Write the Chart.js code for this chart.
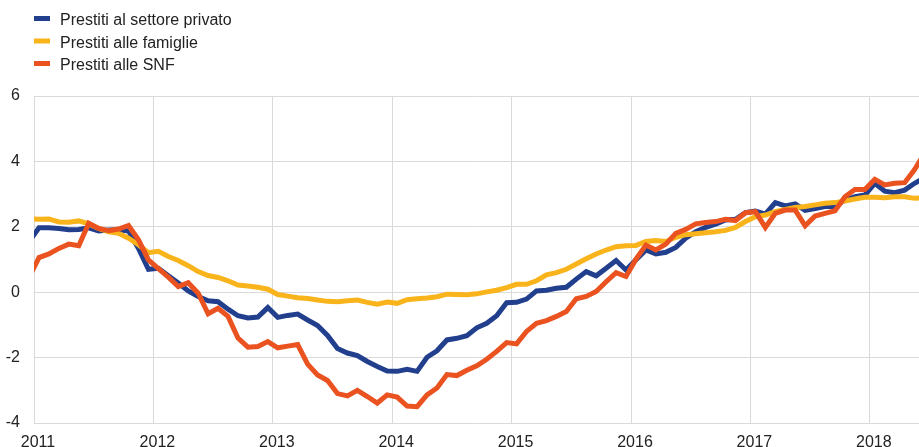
<!DOCTYPE html>
<html>
<head>
<meta charset="utf-8">
<script src="https://cdn.jsdelivr.net/npm/chart.js@4"></script>
<style>
  html, body { margin: 0; padding: 0; background: #ffffff; }
  #wrap { position: relative; width: 919px; height: 447px; }
</style>
</head>
<body>
<div id="wrap"><canvas id="c"></canvas></div>
<script>
// ---- categories (monthly observations) ----
const months = [
  "2010-12",
  "2011-01","2011-02","2011-03","2011-04","2011-05","2011-06","2011-07","2011-08","2011-09","2011-10","2011-11","2011-12",
  "2012-01","2012-02","2012-03","2012-04","2012-05","2012-06","2012-07","2012-08","2012-09","2012-10","2012-11","2012-12",
  "2013-01","2013-02","2013-03","2013-04","2013-05","2013-06","2013-07","2013-08","2013-09","2013-10","2013-11","2013-12",
  "2014-01","2014-02","2014-03","2014-04","2014-05","2014-06","2014-07","2014-08","2014-09","2014-10","2014-11","2014-12",
  "2015-01","2015-02","2015-03","2015-04","2015-05","2015-06","2015-07","2015-08","2015-09","2015-10","2015-11","2015-12",
  "2016-01","2016-02","2016-03","2016-04","2016-05","2016-06","2016-07","2016-08","2016-09","2016-10","2016-11","2016-12",
  "2017-01","2017-02","2017-03","2017-04","2017-05","2017-06","2017-07","2017-08","2017-09","2017-10","2017-11","2017-12",
  "2018-01","2018-02","2018-03","2018-04","2018-05","2018-06"
];

// ---- series values ----
const prestitiSettorePrivato = [
  1.55,
  1.97, 1.97, 1.95, 1.91, 1.92, 1.97, 1.87, 1.90, 1.91, 1.87, 1.34, 0.70,
  0.73, 0.50, 0.28, 0.04, -0.13, -0.26, -0.29, -0.52, -0.72, -0.79, -0.76, -0.47,
  -0.77, -0.71, -0.67, -0.85, -1.02, -1.32, -1.72, -1.86, -1.94, -2.12, -2.27, -2.41,
  -2.42, -2.36, -2.42, -1.99, -1.79, -1.46, -1.41, -1.33, -1.09, -0.95, -0.72, -0.32,
  -0.31, -0.21, 0.04, 0.06, 0.12, 0.15, 0.40, 0.63, 0.50, 0.73, 0.97, 0.68,
  0.99, 1.29, 1.17, 1.22, 1.37, 1.65, 1.85, 1.98, 2.08, 2.21, 2.23, 2.43,
  2.48, 2.39, 2.74, 2.64, 2.70, 2.50, 2.56, 2.62, 2.62, 2.82, 2.92, 2.97,
  3.33, 3.09, 3.04, 3.12, 3.33, 3.50
];
const prestitiFamiglie = [
  2.25,
  2.23, 2.24, 2.15, 2.14, 2.18, 2.09, 1.95, 1.85, 1.80, 1.65, 1.45, 1.21,
  1.25, 1.09, 0.97, 0.81, 0.63, 0.51, 0.45, 0.35, 0.22, 0.19, 0.15, 0.09,
  -0.07, -0.12, -0.17, -0.19, -0.24, -0.28, -0.29, -0.26, -0.24, -0.31, -0.37, -0.30,
  -0.34, -0.23, -0.20, -0.18, -0.14, -0.06, -0.07, -0.08, -0.05, 0.01, 0.06, 0.14,
  0.24, 0.24, 0.35, 0.53, 0.60, 0.70, 0.86, 1.02, 1.17, 1.29, 1.39, 1.42,
  1.43, 1.55, 1.58, 1.55, 1.68, 1.76, 1.79, 1.82, 1.85, 1.89, 1.98, 2.16,
  2.31, 2.36, 2.46, 2.53, 2.59, 2.62, 2.67, 2.72, 2.74, 2.79, 2.85, 2.90,
  2.90, 2.89, 2.92, 2.92, 2.87, 2.90
];
const prestitiSNF = [
  0.45,
  1.06, 1.17, 1.34, 1.47, 1.42, 2.11, 1.95, 1.88, 1.93, 2.04, 1.60, 0.99,
  0.72, 0.46, 0.17, 0.29, -0.03, -0.66, -0.49, -0.74, -1.40, -1.68, -1.66, -1.51,
  -1.70, -1.65, -1.60, -2.20, -2.53, -2.70, -3.10, -3.17, -3.00, -3.19, -3.39, -3.14,
  -3.21, -3.48, -3.50, -3.14, -2.93, -2.52, -2.55, -2.39, -2.25, -2.05, -1.81, -1.54,
  -1.58, -1.20, -0.95, -0.87, -0.74, -0.59, -0.20, -0.13, 0.02, 0.32, 0.60, 0.48,
  1.01, 1.44, 1.29, 1.47, 1.80, 1.92, 2.09, 2.13, 2.16, 2.23, 2.19, 2.43,
  2.46, 1.98, 2.41, 2.51, 2.51, 2.03, 2.33, 2.41, 2.49, 2.92, 3.14, 3.14,
  3.45, 3.28, 3.33, 3.35, 3.75, 4.25
];

// ---- tick labels ----
const yearTicks = [2011, 2012, 2013, 2014, 2015, 2016, 2017, 2018];
const yTicks = [-4, -2, 0, 2, 4, 6];
const seriesLabels = ["Prestiti al settore privato", "Prestiti alle famiglie", "Prestiti alle SNF"];
const seriesColors = ["#223F8E", "#F9B31B", "#EA5220"];

// month label -> position in years (mid-month)
function monthPos(label) {
  const parts = label.split("-").map(Number);
  return parts[0] + (parts[1] - 0.5) / 12;
}
function toPoints(values) {
  return values.map((v, i) => ({ x: monthPos(months[i]), y: v }));
}

const FONT = "'Liberation Sans', Arial, Helvetica, sans-serif";
Chart.defaults.font.family = FONT;
Chart.defaults.font.size = 16;
Chart.defaults.color = "#222222";

const legendPlugin = {
  id: "stackedLegend",
  afterDraw(chart) {
    const ctx = chart.ctx;
    ctx.save();
    ctx.font = "16px " + FONT;
    ctx.textBaseline = "alphabetic";
    ctx.textAlign = "left";
    const rows = [18.5, 41, 63.5];
    seriesLabels.forEach((lab, i) => {
      ctx.fillStyle = seriesColors[i];
      ctx.fillRect(34, rows[i] - 2.5, 16, 5);
      ctx.fillStyle = "#222222";
      ctx.fillText(lab, 60, rows[i] + 6.5);
    });
    ctx.restore();
  }
};

const datasets = [0, 1, 2].map(i => ({
  label: seriesLabels[i],
  data: toPoints([prestitiSettorePrivato, prestitiFamiglie, prestitiSNF][i]),
  borderColor: seriesColors[i],
  backgroundColor: seriesColors[i],
  borderWidth: 5,
  pointRadius: 0,
  pointHoverRadius: 0,
  tension: 0,
  fill: false,
  clip: 0,
  order: 2 - i
}));

new Chart(document.getElementById("c"), {
  type: "line",
  data: { datasets },
  options: {
    responsive: true,
    maintainAspectRatio: false,
    animation: false,
    events: [],
    layout: { padding: { top: 96, left: 0, right: 0, bottom: 0 } },
    plugins: { legend: { display: false }, tooltip: { enabled: false }, title: { display: false } },
    scales: {
      x: {
        type: "linear",
        min: 2011,
        max: 2018.412,
        border: { display: false },
        grid: { color: "#DADADA", lineWidth: 1, drawTicks: false },
        afterBuildTicks: (scale) => { scale.ticks = yearTicks.map(v => ({ value: v })); },
        afterFit: (scale) => { scale.height = 24; },
        ticks: {
          padding: 10,
          labelOffset: 4,
          maxRotation: 0,
          autoSkip: false,
          color: "#222222",
          font: { size: 16 },
          callback: (v) => String(v)
        }
      },
      y: {
        min: -4,
        max: 6,
        border: { display: false },
        grid: { color: "#DADADA", lineWidth: 1, drawTicks: false },
        afterBuildTicks: (scale) => { scale.ticks = yTicks.map(v => ({ value: v })); },
        afterFit: (scale) => { scale.width = 34; },
        ticks: {
          padding: 14,
          color: "#222222",
          font: { size: 16 },
          callback: (v) => String(v)
        }
      }
    }
  },
  plugins: [legendPlugin]
});
</script>
</body>
</html>
